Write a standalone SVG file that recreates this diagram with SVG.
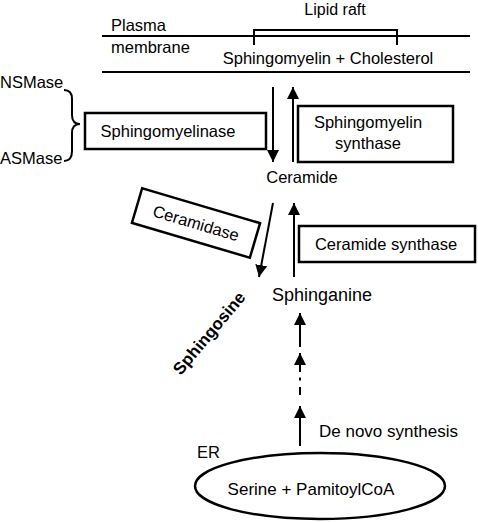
<svg xmlns="http://www.w3.org/2000/svg" width="478" height="522" viewBox="0 0 478 522">
<style>
text{font-family:"Liberation Sans",Arial,sans-serif;font-size:16.5px;fill:#000}
.box{fill:#fff;stroke:#000;stroke-width:2.5}
.ln{stroke:#000;stroke-width:2;fill:none}
.ar{stroke:#000;stroke-width:2;fill:none;marker-end:url(#ah)}
.c{text-anchor:middle}
.f16{font-size:16px}
.f17{font-size:17px}
.f18{font-size:18px}
.b{font-weight:bold}
</style>
<defs>
<marker id="ah" markerUnits="userSpaceOnUse" markerWidth="12" markerHeight="13" refX="12" refY="6" orient="auto">
<path d="M0,0 L12,6 L0,12 Z" fill="#000"/>
</marker>
</defs>
<g id="membrane">
<line class="ln" x1="102" y1="36" x2="470" y2="36"/>
<line class="ln" x1="102" y1="72" x2="470" y2="72"/>
<path class="ln" d="M254,45 V30 H397 V45"/>
<text x="335" y="15" class="c f16">Lipid raft</text>
<text x="111" y="31">Plasma</text>
<text x="111" y="53">membrane</text>
<text x="328" y="64" class="c">Sphingomyelin + Cholesterol</text>
</g>
<g id="enzymes-smase">
<text x="0" y="88">NSMase</text>
<text x="0" y="164">ASMase</text>
<path class="ln" d="M64,90 Q72,90 72,99 L72,115 Q72,124 80,124 Q72,124 72,133 L72,151 Q72,161 64,161"/>
</g>
<g id="sphingomyelinase">
<rect class="box" x="85" y="113" width="181" height="36"/>
<text x="168" y="137" class="c">Sphingomyelinase</text>
</g>
<g id="sm-synthase">
<rect class="box" x="298" y="106" width="155" height="56"/>
<text x="368" y="128" class="c">Sphingomyelin</text>
<text x="368" y="149" class="c">synthase</text>
</g>
<g id="ceramide">
<text x="302" y="183" class="c">Ceramide</text>
</g>
<g id="ceramidase">
<g transform="translate(196,223) rotate(16.5)">
<rect class="box" x="-61.5" y="-18" width="123" height="36"/>
<text x="0" y="6" class="c">Ceramidase</text>
</g>
</g>
<g id="ceramide-synthase">
<rect class="box" x="299" y="226" width="176" height="36"/>
<text x="386" y="250" class="c">Ceramide synthase</text>
</g>
<g id="sphinganine">
<text x="272" y="301" class="f18">Sphinganine</text>
</g>
<g id="sphingosine">
<text transform="translate(209,333) rotate(-50)" x="0" y="6" class="c f17 b">Sphingosine</text>
</g>
<g id="er">
<text x="197" y="458">ER</text>
<ellipse cx="320" cy="486" rx="125" ry="33" fill="none" stroke="#000" stroke-width="2.5"/>
<text x="311" y="495" class="c f17">Serine + PamitoylCoA</text>
</g>
<g id="denovo-label">
<text x="319" y="437" class="f17">De novo synthesis</text>
</g>
<g id="connectors">
<line class="ar" x1="273" y1="87" x2="273" y2="162"/>
<line class="ar" x1="293" y1="162" x2="293" y2="87"/>
<line class="ar" x1="273" y1="203" x2="259" y2="277"/>
<line class="ar" x1="294" y1="277" x2="294" y2="203"/>
<line class="ar" x1="300" y1="446" x2="300" y2="406"/>
<line class="ln" x1="300" y1="395" x2="300" y2="387"/>
<line class="ln" x1="300" y1="377.5" x2="300" y2="380.5"/>
<line class="ar" x1="300" y1="372" x2="300" y2="353"/>
<line class="ar" x1="300" y1="347" x2="300" y2="313"/>
</g>
</svg>
